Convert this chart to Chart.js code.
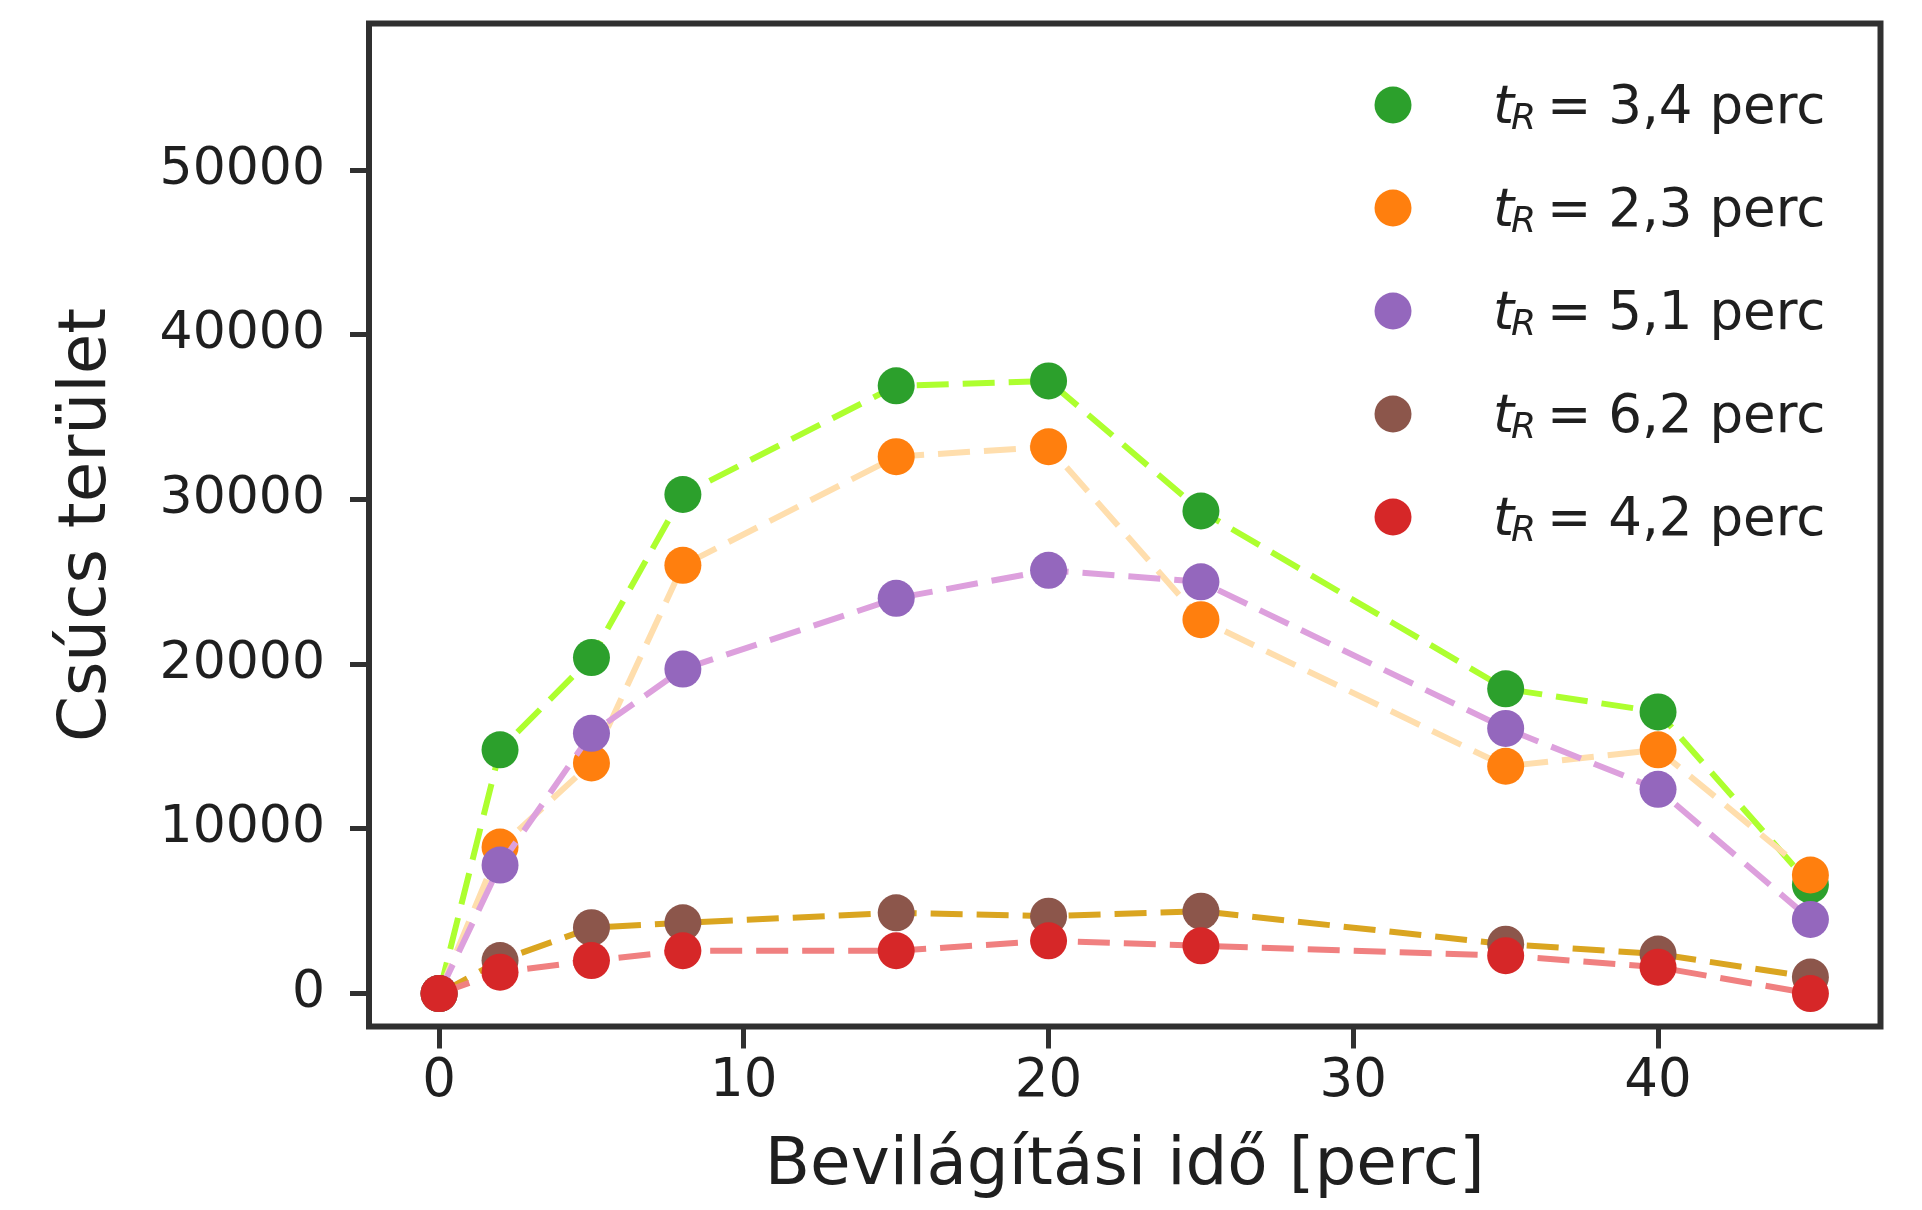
<!DOCTYPE html>
<html>
<head>
<meta charset="utf-8">
<script src="https://cdn.jsdelivr.net/npm/chart.js@4.4.1/dist/chart.umd.min.js"></script>
<style>
  html, body { margin: 0; padding: 0; background: #fff; }
  canvas { display: block; }
</style>
</head>
<body>
<canvas id="peakChart" width="1922" height="1210"></canvas>
<script>
// illumination time [min]
const times = [0, 2, 5, 8, 15, 20, 25, 35, 40, 45];

// retention times used in the legend
const retention = ['3,4', '2,3', '5,1', '6,2', '4,2'];

// peak areas per retention time
const area34 = [0, 14800, 20400, 30300, 36900, 37200, 29300, 18500, 17100, 6600];
const area23 = [0, 8900, 14000, 26000, 32600, 33200, 22700, 13800, 14800, 7200];
const area51 = [0, 7800, 15800, 19700, 24000, 25700, 25000, 16100, 12400, 4500];
const area62 = [0, 2000, 4000, 4300, 4900, 4700, 5000, 3000, 2400, 1000];
const area42 = [0, 1300, 2000, 2600, 2600, 3200, 2900, 2300, 1600, 0];

const xTicks = [0, 10, 20, 30, 40];
const yTicks = [0, 10000, 20000, 30000, 40000, 50000];

const markerColors = ['#2ca02c', '#ff7f0e', '#9467bd', '#8c564b', '#d62728'];
const lineColors = ['#adff2f', '#ffdead', '#dda0dd', '#daa520', '#f08080'];

const series = [area34, area23, area51, area62, area42];
const ink = '#1f1f1f';
const frame = '#303030';
const family = '"DejaVu Sans", sans-serif';

const datasets = series.map((vals, i) => ({
    label: retention[i],
    data: times.map((t, j) => ({ x: t, y: vals[j] })),
    showLine: true,
    borderColor: lineColors[i],
    borderWidth: 6,
    borderDash: [32, 14],
    pointRadius: 18.5,
    pointHoverRadius: 18.5,
    pointBorderWidth: 0,
    pointBackgroundColor: markerColors[i],
    order: series.length - 1 - i
}));

// box around the plot area
const framePlugin = {
    id: 'frame',
    afterDatasetsDraw(chart) {
        const { ctx, chartArea: a } = chart;
        ctx.save();
        ctx.strokeStyle = frame;
        ctx.lineWidth = 6;
        ctx.strokeRect(a.left, a.top, a.right - a.left, a.bottom - a.top);
        ctx.restore();
    }
};

// legend with t_R labels
const legendPlugin = {
    id: 'tLegend',
    afterDraw(chart) {
        const ctx = chart.ctx;
        ctx.save();
        ctx.textBaseline = 'alphabetic';
        ctx.textAlign = 'left';
        chart.data.datasets.forEach((ds, i) => {
            const y = 105 + i * 103;
            ctx.beginPath();
            ctx.arc(1393, y, 18.5, 0, Math.PI * 2);
            ctx.fillStyle = ds.pointBackgroundColor;
            ctx.fill();
            ctx.fillStyle = ink;
            ctx.font = 'italic 54px ' + family;
            ctx.fillText('t', 1493, y + 18);
            ctx.font = 'italic 36px ' + family;
            ctx.fillText('R', 1511, y + 24);
            ctx.font = '53px ' + family;
            ctx.fillText('= ' + ds.label + ' perc', 1547, y + 18);
        });
        ctx.restore();
    }
};

new Chart(document.getElementById('peakChart'), {
    type: 'scatter',
    data: { datasets },
    plugins: [framePlugin, legendPlugin],
    options: {
        responsive: false,
        animation: false,
        events: [],
        layout: { padding: { left: 0, top: 23.5, right: 41.5, bottom: 0 } },
        plugins: { legend: { display: false }, tooltip: { enabled: false } },
        scales: {
            x: {
                type: 'linear',
                min: -2.3,
                max: 47.3,
                afterFit: s => { s.height = 183.5; s.paddingLeft = 0; s.paddingRight = 0; },
                afterBuildTicks: s => { s.ticks = xTicks.map(v => ({ value: v })); },
                border: { display: false },
                grid: { drawOnChartArea: false, drawTicks: true, tickLength: 22, tickWidth: 5, tickColor: frame },
                ticks: { padding: 2, color: ink, font: { family: 'DejaVu Sans', size: 53 }, maxRotation: 0 },
                title: { display: true, text: 'Bevilágítási idő [perc]', color: ink, font: { family: 'DejaVu Sans', size: 66 }, padding: { top: 0, bottom: 4 } }
            },
            y: {
                type: 'linear',
                min: -2000,
                max: 58900,
                afterFit: s => { s.width = 369; s.paddingTop = 0; s.paddingBottom = 0; },
                afterBuildTicks: s => { s.ticks = yTicks.map(v => ({ value: v })); },
                border: { display: false },
                grid: { drawOnChartArea: false, drawTicks: true, tickLength: 19, tickWidth: 5, tickColor: frame },
                ticks: { padding: 25, color: ink, font: { family: 'DejaVu Sans', size: 52 }, callback: v => String(v) },
                title: { display: true, text: 'Csúcs terület', color: ink, font: { family: 'DejaVu Sans', size: 66 }, padding: { top: 48, bottom: 0 } }
            }
        }
    }
});
</script>
</body>
</html>
